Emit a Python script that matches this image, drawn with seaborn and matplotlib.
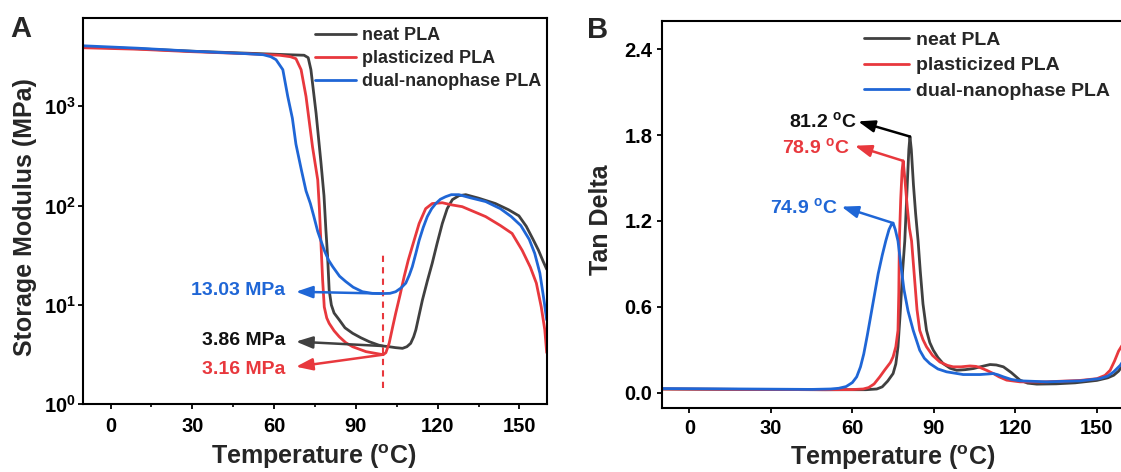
import numpy as np
import pandas as pd
import matplotlib
matplotlib.use("Agg")
import matplotlib.pyplot as plt
from matplotlib.ticker import MultipleLocator, NullLocator, FixedLocator
import seaborn as sns

# ---------------- data ----------------
series_names = ["neat PLA", "plasticized PLA", "dual-nanophase PLA"]
colors = ["#404040", "#E8383D", "#1F66D6"]

# Panel A: storage modulus (MPa) vs temperature (C)
a_neat_T = [-10, 10, 30, 50, 65, 71, 72.5, 73.5, 75.4, 77.2, 78.3, 79.0, 79.6, 80.2, 81.0, 82.0,
            83.9, 86, 88.8, 91.8, 94.9, 98.4, 100, 102.2, 104.5, 107.1, 108.7, 110.1, 111.2, 112.0,
            113.2, 114.4, 116.2, 118.0, 119.8, 121.7, 123.5, 125.4, 127.8, 130.3, 135, 141.2, 146,
            149.8, 152.5, 155, 157, 158.7, 160]
a_neat_E = [3980, 3800, 3590, 3430, 3310, 3270, 3090, 2340, 851, 269, 126, 56.9, 31.6, 14.1, 10.0, 8.3,
            7.08, 5.89, 5.19, 4.68, 4.27, 3.94, 3.86, 3.80, 3.72, 3.66, 3.80, 4.11, 4.79, 5.62,
            7.94, 11.2, 17.4, 26.3, 41.7, 66.1, 93.3, 115, 126, 129, 119, 105, 91.0,
            79.0, 62.0, 45.7, 35.5, 27.5, 22.9]

a_plast_T = [-10, 10, 30, 50, 62, 66, 68, 69.9, 71.7, 74.1, 76.0, 76.6, 77.2, 77.8, 78.4, 79.3, 80.2,
             82, 83.9, 86.3, 88.8, 93.7, 98.5, 100, 101, 102.2, 103.5, 104.6, 106.2, 107.7, 109.2,
             110.7, 113.2, 115.6, 118.0, 121.7, 125, 129, 137.6, 143, 147.3, 151, 154, 156.2, 158,
             159.3, 160]
a_plast_E = [3890, 3760, 3550, 3390, 3270, 3160, 3020, 2340, 1260, 389, 182, 95, 41, 17.8, 9.55, 7.41,
             6.53, 5.50, 4.79, 4.17, 3.80, 3.39, 3.21, 3.16, 3.31, 4.11, 6.03, 8.24, 12.6, 19.3, 28.2,
             38.9, 66.1, 93.3, 105, 107, 102, 97.7, 77.6, 63.1, 52.5, 35.5, 24.0, 16.6, 9.55,
             5.62, 3.31]

a_dual_T = [-10, 10, 30, 50, 56, 58.8, 60.7, 63.2, 65.0, 66.7, 68.0, 70, 71.7, 73.3, 74.5, 76, 78.4,
            80, 81.5, 84, 86.3, 89, 92.4, 96, 99.8, 102.5, 104.6, 106.5, 108.3, 109.6, 110.7, 112,
            113.2, 114.7, 116.2, 117.8, 119.3, 121, 122.9, 125, 127.8, 132, 137.6, 143, 147, 150.5,
            153.6, 155.6, 157.5, 159, 160]
a_dual_E = [4070, 3850, 3590, 3390, 3310, 3160, 2950, 2340, 1260, 759, 417, 229, 141, 105, 79.4, 55.0,
            35.5, 28.2, 24.3, 19.5, 17.2, 15.1, 13.6, 13.1, 13.03, 13.1, 13.6, 14.8, 16.6, 20.0, 24.3,
            33.1, 44.7, 60.3, 77.6, 93.3, 105, 116, 123, 129, 129, 120, 110, 93.3, 77.6, 63.1,
            45.7, 33.1, 20.9, 11.2, 7.08]

a_ref_temp = 100
a_ref_span = [1.45, 33.5]
a_labels = ["3.86 MPa", "3.16 MPa", "13.03 MPa"]
a_values = [3.86, 3.16, 13.03]
a_label_y = [4.38, 2.25, 13.9]
a_head_y = [4.28, 2.39, 13.6]

# Panel B: tan delta vs temperature (C)
b_neat_T = [-10, 20, 50, 65, 69, 71, 73, 75, 76, 76.8, 77.6, 78.5, 79.3, 80.2, 80.8, 81.2, 81.7, 82.5,
            83.3, 84.2, 85.0, 86, 87.3, 88.5, 89.8, 91.5, 93.4, 96, 98.4, 101.5, 104.6, 107.5, 110.7,
            113, 115.6, 118.5, 121.7, 124.5, 127.9, 135, 142, 150, 154, 156.2, 158, 159.5, 160]
b_neat_tan = [0.025, 0.022, 0.02, 0.02, 0.025, 0.04, 0.08, 0.133, 0.2, 0.32, 0.55, 0.85, 1.06, 1.45,
              1.70, 1.79, 1.70, 1.45, 1.25, 1.06, 0.85, 0.62, 0.435, 0.35, 0.296, 0.245, 0.203, 0.17,
              0.156, 0.16, 0.168, 0.182, 0.196, 0.193, 0.18, 0.14, 0.087, 0.066, 0.059, 0.061, 0.068,
              0.085, 0.103, 0.121, 0.15, 0.19, 0.21]

b_plast_T = [-10, 20, 50, 60, 64, 66, 68, 70.1, 72, 74, 75, 76, 76.8, 77.1, 77.3, 77.8, 78.3, 78.7,
             79.3, 80.2, 81.0, 81.8, 82.8, 83.8, 84.8, 86, 87.3, 89.5, 92.2, 95, 97.1, 100, 103.3,
             105.5, 107, 109.5, 111.9, 114, 116.8, 121.7, 130, 143.9, 150, 153, 154.9, 156.5, 158,
             159.3, 160]
b_plast_tan = [0.025, 0.022, 0.02, 0.021, 0.025, 0.035, 0.06, 0.11, 0.16, 0.21, 0.25, 0.32, 0.435, 0.7,
               1.06, 1.35, 1.55, 1.62, 1.50, 1.30, 1.15, 1.06, 0.82, 0.58, 0.435, 0.37, 0.32, 0.26,
               0.214, 0.19, 0.18, 0.18, 0.186, 0.183, 0.175, 0.155, 0.133, 0.11, 0.087, 0.075, 0.074,
               0.085, 0.097, 0.12, 0.156, 0.22, 0.29, 0.33, 0.36]

b_dual_T = [-10, 20, 45, 52, 55, 57.7, 60, 61.6, 63, 64.2, 65.5, 66.9, 68.2, 69.5, 71, 72.3, 73.5, 74.5,
            75.0, 75.8, 76.8, 77.8, 79, 80.5, 82.4, 84.8, 86.5, 88.5, 91.5, 94.7, 100.8, 107, 110,
            111.9, 113.5, 115.6, 118.5, 121.7, 131.6, 143.9, 151.2, 154, 156.2, 158.6, 160]
b_dual_tan = [0.028, 0.025, 0.022, 0.025, 0.03, 0.042, 0.07, 0.11, 0.18, 0.27, 0.40, 0.55, 0.69, 0.83,
              0.96, 1.06, 1.14, 1.18, 1.185, 1.14, 1.06, 0.90, 0.72, 0.57, 0.435, 0.296, 0.24, 0.203,
              0.165, 0.145, 0.126, 0.126, 0.13, 0.133, 0.125, 0.11, 0.092, 0.082, 0.075, 0.082, 0.098,
              0.115, 0.145, 0.19, 0.23]

b_labels = ["81.2 $^{o}$C", "78.9 $^{o}$C", "74.9 $^{o}$C"]
b_peak_T = [81.2, 78.7, 75.0]
b_peak_tan = [1.79, 1.62, 1.185]
b_head_T = [62.1, 60.9, 56.0]
b_head_tan = [1.896, 1.726, 1.30]
b_text_T = [61.6, 59.0, 54.7]
b_text_tan = [1.90, 1.715, 1.30]

x_ticks = [0, 30, 60, 90, 120, 150]
a_yticks = [1, 10, 100, 1000]
b_yticks = [0.0, 0.6, 1.2, 1.8, 2.4]

# ---------------- style ----------------
sns.set_theme(style="ticks")
plt.rcParams["font.family"] = ["Liberation Sans", "DejaVu Sans"]
plt.rcParams["font.weight"] = "bold"
plt.rcParams["axes.labelweight"] = "bold"
plt.rcParams["mathtext.fontset"] = "custom"
plt.rcParams["mathtext.rm"] = "Liberation Sans:bold"
plt.rcParams["mathtext.it"] = "Liberation Sans:bold"
plt.rcParams["mathtext.bf"] = "Liberation Sans:bold"
plt.rcParams["mathtext.sf"] = "Liberation Sans:bold"
plt.rcParams["mathtext.default"] = "rm"

W, H = 1121, 472
fig = plt.figure(figsize=(W / 100, H / 100), dpi=100)

def px_rect(l, r, t, b):
    return [l / W, 1 - b / H, (r - l) / W, (b - t) / H]

axA = fig.add_axes(px_rect(83.3, 546.7, 18.3, 404.3))
axB = fig.add_axes(px_rect(662.2, 1124.0, 20.7, 408.3))

def long_df(Ts, Vs):
    frames = []
    for name, T, V in zip(series_names, Ts, Vs):
        frames.append(pd.DataFrame({"T": T, "v": V, "sample": name}))
    return pd.concat(frames, ignore_index=True)

dfA = long_df([a_neat_T, a_plast_T, a_dual_T], [a_neat_E, a_plast_E, a_dual_E])
dfB = long_df([b_neat_T, b_plast_T, b_dual_T], [b_neat_tan, b_plast_tan, b_dual_tan])
pal = dict(zip(series_names, colors))

for ax, df in [(axA, dfA), (axB, dfB)]:
    sns.lineplot(data=df, x="T", y="v", hue="sample", palette=pal, sort=False,
                 estimator=None, lw=2.0, legend=False, ax=ax)

def style_axis(ax):
    for s in ax.spines.values():
        s.set_linewidth(1.5)
        s.set_color("black")
    ax.tick_params(axis="both", which="major", direction="out", length=3.5, width=1.3,
                   labelsize=14.5, color="black", labelcolor="black")
    ax.set_xticks(x_ticks)
    ax.set_xlim(-10, 160)

# Panel A
axA.set_yscale("log")
axA.set_ylim(1, 7700)
style_axis(axA)
axA.yaxis.set_major_locator(FixedLocator(a_yticks))
axA.yaxis.set_minor_locator(NullLocator())
axA.xaxis.set_minor_locator(MultipleLocator(15))
axA.tick_params(axis="x", which="minor", direction="out", length=2.2, width=1.2, color="black")
axA.tick_params(axis="x", which="major", pad=6)
axA.tick_params(axis="y", which="major", pad=2)
axA.set_xlabel("Temperature ($^{o}$C)", fontsize=18)
axA.set_ylabel("Storage Modulus (MPa)", fontsize=18)
axA.xaxis.set_label_coords(0.497, -0.137)
axA.xaxis.label.set_va("center")
axA.yaxis.set_label_coords(-0.126, 0.486)
axA.yaxis.label.set_va("center")

hA = axA.get_lines()[:3]
axA.legend(hA, series_names, loc="upper left", bbox_to_anchor=(0.501, 0.977), frameon=False,
           handlelength=2.26, handletextpad=0.3, labelspacing=0.33, borderpad=0, borderaxespad=0,
           prop={"size": 13, "weight": "bold"})

axA.plot([a_ref_temp, a_ref_temp], a_ref_span, color=colors[1], lw=1.5, ls=(0, (3, 2.5)))
arrow_colors_A = [colors[0], colors[1], colors[2]]
text_colors_A = ["#111111", colors[1], colors[2]]
for lab, val, ty, hy, ac, tc in zip(a_labels, a_values, a_label_y, a_head_y, arrow_colors_A, text_colors_A):
    axA.annotate("", xy=(68.0, hy), xytext=(a_ref_temp, val),
                 arrowprops=dict(arrowstyle="-|>,head_length=0.5,head_width=0.18", color=ac,
                                 lw=1.8, shrinkA=0, shrinkB=0, mutation_scale=20))
    axA.text(64.1, ty, lab, color=tc, fontsize=14, fontweight="bold", ha="right", va="center")

# Panel B
axB.set_ylim(-0.11, 2.6)
style_axis(axB)
axB.set_yticks(b_yticks)
axB.yaxis.set_major_formatter(matplotlib.ticker.FormatStrFormatter("%.1f"))
axB.tick_params(axis="x", which="major", pad=4.5)
axB.tick_params(axis="y", which="major", pad=3.6)
axB.set_xlabel("Temperature ($^{o}$C)", fontsize=18)
axB.set_ylabel("Tan Delta", fontsize=18)
axB.xaxis.set_label_coords(0.499, -0.128)
axB.xaxis.label.set_va("center")
axB.yaxis.set_label_coords(-0.132, 0.486)
axB.yaxis.label.set_va("center")

hB = axB.get_lines()[:3]
axB.legend(hB, series_names, loc="upper left", bbox_to_anchor=(0.437, 0.972), frameon=False,
           handlelength=2.3, handletextpad=0.37, labelspacing=0.39, borderpad=0, borderaxespad=0,
           prop={"size": 14, "weight": "bold"})

arrow_colors_B = ["#000000", colors[1], colors[2]]
text_colors_B = ["#111111", colors[1], colors[2]]
for lab, pt, pv, ht, hv, tt, tv, ac, tc in zip(b_labels, b_peak_T, b_peak_tan, b_head_T, b_head_tan,
                                               b_text_T, b_text_tan, arrow_colors_B, text_colors_B):
    axB.annotate("", xy=(ht, hv), xytext=(pt, pv),
                 arrowprops=dict(arrowstyle="-|>,head_length=0.5,head_width=0.18", color=ac,
                                 lw=1.8, shrinkA=0, shrinkB=0, mutation_scale=20))
    axB.text(tt, tv, lab, color=tc, fontsize=14, fontweight="bold", ha="right", va="center")

fig.text(10.6 / W, 1 - 36.7 / H, "A", fontsize=21, fontweight="bold", va="baseline", ha="left")
fig.text(586.7 / W, 1 - 38.3 / H, "B", fontsize=21, fontweight="bold", va="baseline", ha="left")

fig.savefig("out.png", dpi=100)
